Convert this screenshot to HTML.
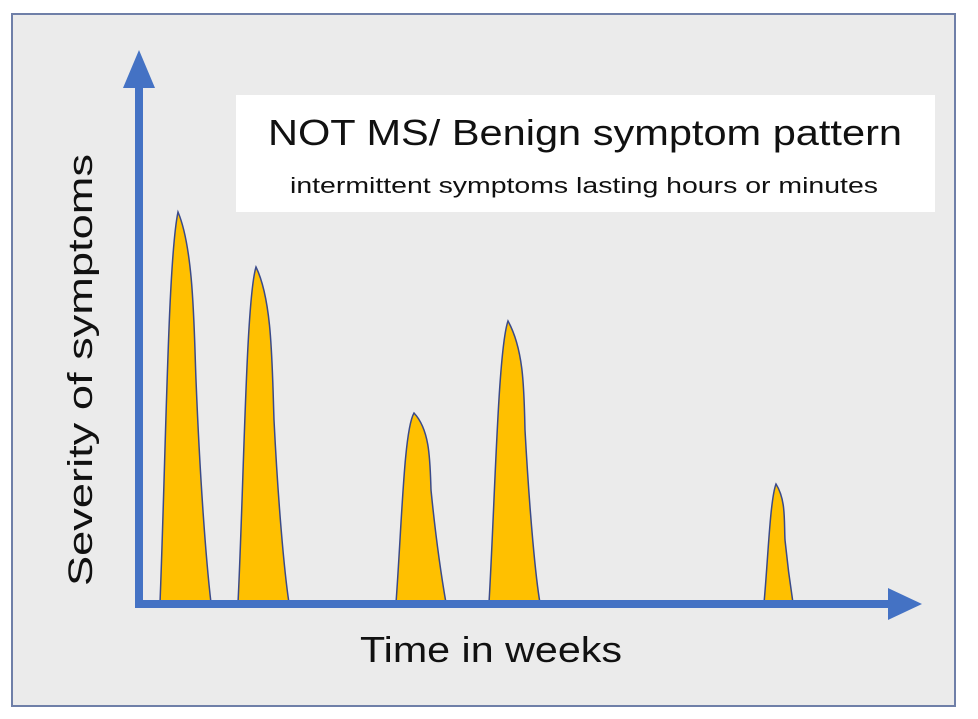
<!DOCTYPE html>
<html><head><meta charset="utf-8"><style>
html,body{margin:0;padding:0;background:#fff}
svg{display:block}
text{font-family:"Liberation Sans",sans-serif;fill:#111}
</style></head><body>
<svg width="978" height="719" viewBox="0 0 978 719">
<rect x="0" y="0" width="978" height="719" fill="#fff"/>
<rect x="12" y="14" width="943" height="692" fill="#ebebeb" stroke="#6f7fa8" stroke-width="2"/>
<rect x="236" y="95" width="699" height="117" fill="#fff"/>
<text x="268" y="145" font-size="36" textLength="634" lengthAdjust="spacingAndGlyphs">NOT MS/ Benign symptom pattern</text>
<text x="290" y="193" font-size="22" textLength="588" lengthAdjust="spacingAndGlyphs">intermittent symptoms lasting hours or minutes</text>
<text transform="translate(92,370) rotate(-90)" text-anchor="middle" font-size="34" textLength="432" lengthAdjust="spacingAndGlyphs">Severity of symptoms</text>
<text x="360" y="662" font-size="36" textLength="262" lengthAdjust="spacingAndGlyphs">Time in weeks</text>
<g fill="#ffc000" stroke="#3a4a8a" stroke-width="1.5">
<path d="M160,603 C166,450 168,260 178,212 C194,250 194,330 196,380 C200,480 206,560 211,603 Z"/>
<path d="M238,603 C244,480 246,300 256,267 C272,300 272,360 274,420 C278,500 284,570 289,603 Z"/>
<path d="M396,603 C402,520 404,430 414,413 C430,430 430,460 431,490 C436,540 442,580 446,603 Z"/>
<path d="M489,603 C495,500 498,350 508,321 C524,350 524,390 525,430 C530,520 536,580 540,603 Z"/>
<path d="M764,603 C768,560 770,500 776,484 C786,500 784,520 785,540 C788,570 791,590 793,603 Z"/>
</g>
<rect x="135" y="85" width="8" height="522" fill="#4472c4"/>
<polygon points="139,50 123,88 155,88" fill="#4472c4"/>
<rect x="135" y="600" width="756" height="8" fill="#4472c4"/>
<polygon points="922,604 888,588 888,620" fill="#4472c4"/>
</svg>
</body></html>
